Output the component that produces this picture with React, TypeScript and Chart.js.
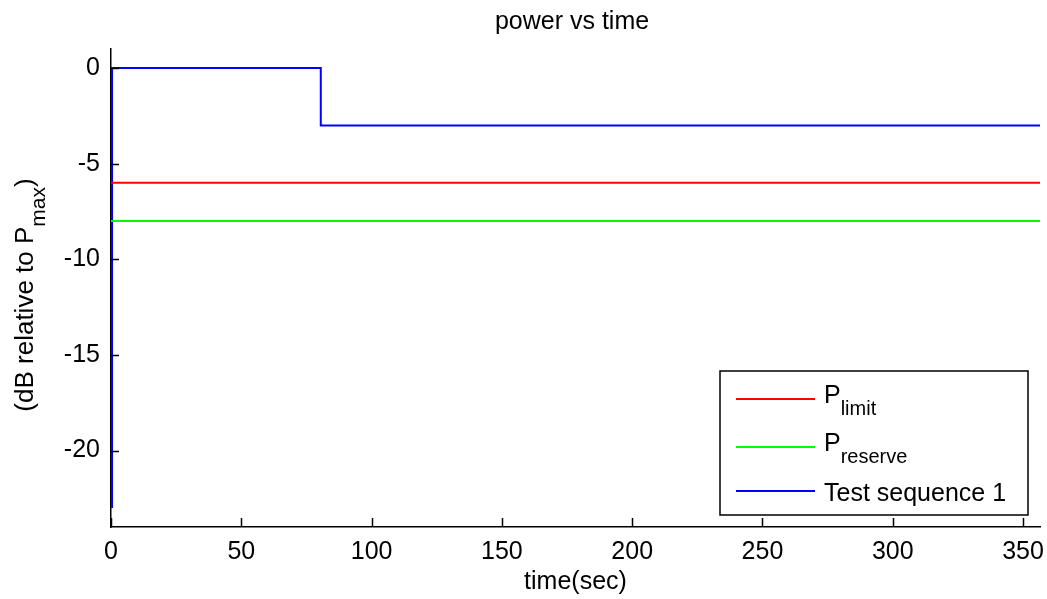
import React, { useEffect, useRef } from 'react';
import { Chart, registerables } from 'chart.js';

Chart.register(...registerables);

const titleText = 'power vs time';
const xLabel = 'time(sec)';
const yLabelMain = '(dB relative to P';
const yLabelSub = 'max';
const yLabelEnd = ')';

const timeLimit = [0, 356.5];
const pLimit = [-6, -6];
const timeReserve = [0, 356.5];
const pReserve = [-8, -8];
const timeTest = [0.4, 0.4, 80.5, 80.5, 356.5];
const pTest = [-23, 0, 0, -3, -3];

const xTicks = [0, 50, 100, 150, 200, 250, 300, 350];
const yTicks = [0, -5, -10, -15, -20];

const legendMain = ['P', 'P', 'Test sequence 1'];
const legendSub = ['limit', 'reserve', ''];
const colors = ['#ff0000', '#00ff00', '#0000ff'];

const FONT = '"Liberation Sans", Arial, sans-serif';
const FS = 25;
const SUB = 20;

const toPts = (xs: number[], ys: number[]) => xs.map((x, i) => ({ x, y: ys[i] }));

const decorPlugin = {
  id: 'decor',
  afterDraw(chart: any) {
    const ctx = chart.ctx as CanvasRenderingContext2D;
    const xs = chart.scales.x;
    const ys = chart.scales.y;
    const area = chart.chartArea;
    ctx.save();
    // inward ticks
    ctx.strokeStyle = '#000';
    ctx.lineWidth = 1.5;
    ctx.beginPath();
    xTicks.forEach((v) => {
      const px = Math.round(xs.getPixelForValue(v)) + 0.5;
      ctx.moveTo(px, area.bottom);
      ctx.lineTo(px, area.bottom - 9);
    });
    yTicks.forEach((v) => {
      const py = Math.round(ys.getPixelForValue(v)) + 0.5;
      ctx.moveTo(area.left, py);
      ctx.lineTo(area.left + 8, py);
    });
    ctx.stroke();

    // title
    ctx.fillStyle = '#000';
    ctx.font = `${FS}px ${FONT}`;
    ctx.textAlign = 'center';
    ctx.textBaseline = 'alphabetic';
    ctx.fillText(titleText, 572, 29);

    // y label
    ctx.save();
    ctx.translate(33, 295);
    ctx.rotate(-Math.PI / 2);
    ctx.textAlign = 'left';
    ctx.font = `${FS + 1}px ${FONT}`;
    const w1 = ctx.measureText(yLabelMain).width;
    const w3 = ctx.measureText(yLabelEnd).width;
    ctx.font = `${SUB + 1}px ${FONT}`;
    const w2 = ctx.measureText(yLabelSub).width;
    const total = w1 + w2 + w3;
    let cx = -total / 2;
    ctx.font = `${FS + 1}px ${FONT}`;
    ctx.fillText(yLabelMain, cx, 0);
    cx += w1;
    ctx.font = `${SUB + 1}px ${FONT}`;
    ctx.fillText(yLabelSub, cx, 12);
    cx += w2;
    ctx.font = `${FS + 1}px ${FONT}`;
    ctx.fillText(yLabelEnd, cx, 0);
    ctx.restore();

    // legend
    const lx = 720, ly = 371, lw = 308, lh = 144;
    ctx.fillStyle = '#fff';
    ctx.fillRect(lx, ly, lw, lh);
    ctx.strokeStyle = '#000';
    ctx.lineWidth = 1.5;
    ctx.strokeRect(lx, ly, lw, lh);
    const rowY = [399, 447, 491];
    legendMain.forEach((m, i) => {
      ctx.strokeStyle = colors[i];
      ctx.lineWidth = 2;
      ctx.beginPath();
      ctx.moveTo(736, rowY[i]);
      ctx.lineTo(815, rowY[i]);
      ctx.stroke();
      ctx.fillStyle = '#000';
      ctx.font = `${FS}px ${FONT}`;
      ctx.textAlign = 'left';
      const base = legendSub[i] ? rowY[i] + 4 : rowY[i] + 10;
      ctx.fillText(m, 824, base);
      if (legendSub[i]) {
        const mw = ctx.measureText(m).width;
        ctx.font = `${SUB}px ${FONT}`;
        ctx.fillText(legendSub[i], 824 + mw, base + 12);
      }
    });
    ctx.restore();
  },
};

export default function App() {
  const ref = useRef<HTMLCanvasElement | null>(null);
  useEffect(() => {
    if (!ref.current) return;
    const font = { family: FONT, size: FS };
    const chart = new Chart(ref.current, {
      type: 'scatter',
      data: {
        datasets: [
          { label: 'limit', data: toPts(timeLimit, pLimit), borderColor: colors[0], borderWidth: 2, showLine: true, pointRadius: 0 },
          { label: 'reserve', data: toPts(timeReserve, pReserve), borderColor: colors[1], borderWidth: 2, showLine: true, pointRadius: 0 },
          { label: 'Test sequence 1', data: toPts(timeTest, pTest), borderColor: colors[2], borderWidth: 2, showLine: true, pointRadius: 0 },
        ],
      },
      options: {
        responsive: true,
        maintainAspectRatio: false,
        animation: false,
        devicePixelRatio: 1,
        layout: { padding: { top: 49, right: 7, left: 0, bottom: 0 } },
        plugins: { legend: { display: false }, tooltip: { enabled: false }, title: { display: false } },
        scales: {
          x: {
            type: 'linear',
            position: 'bottom',
            min: 0,
            max: 356.5,
            grid: { display: false, drawTicks: false },
            border: { display: true, color: '#000', width: 1.5 },
            ticks: { color: '#000', font, padding: 10, maxRotation: 0, autoSkip: false },
            afterBuildTicks: (s: any) => { s.ticks = xTicks.map((v) => ({ value: v })); },
            afterFit: (s: any) => { s.height = 72; s.paddingLeft = 0; s.paddingRight = 0; },
            title: { display: true, text: xLabel, color: '#000', font, padding: { top: 0, bottom: 2 } },
          },
          y: {
            type: 'linear',
            min: -24,
            max: 1,
            grid: { display: false, drawTicks: false },
            border: { display: true, color: '#000', width: 1.5 },
            ticks: { color: '#000', font, padding: 11, autoSkip: false },
            afterBuildTicks: (s: any) => { s.ticks = yTicks.map((v) => ({ value: v })); },
            afterFit: (s: any) => { s.width = 111; s.paddingTop = 0; s.paddingBottom = 0; },
          },
        },
      } as any,
      plugins: [decorPlugin],
    });
    return () => chart.destroy();
  }, []);
  return (
    <div style={{ position: 'absolute', left: 0, top: 0, width: 1047, height: 599, background: '#fff' }}>
      <canvas ref={ref} />
    </div>
  );
}
